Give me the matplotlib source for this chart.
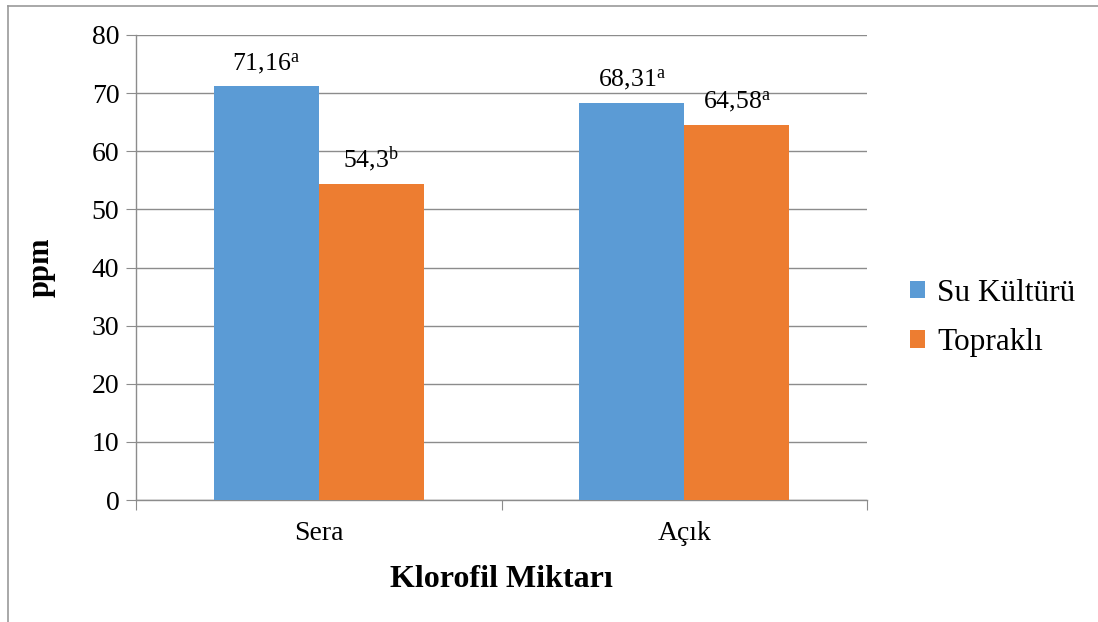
import matplotlib.pyplot as plt
from matplotlib.lines import Line2D
import numpy as np

plt.rcParams['font.family'] = ['Liberation Serif', 'DejaVu Serif']
plt.rcParams['mathtext.fontset'] = 'custom'
plt.rcParams['mathtext.rm'] = 'Liberation Serif'
plt.rcParams['mathtext.it'] = 'Liberation Serif'

categories = ['Sera', 'Açık']
series = ['Su Kültürü', 'Topraklı']
su_kulturu = [71.16, 68.31]
toprakli = [54.3, 64.58]
su_letters = ['a', 'a']
toprak_letters = ['b', 'a']
su_labels = ['71,16', '68,31']
toprak_labels = ['54,3', '64,58']
colors = ['#5B9BD5', '#ED7D31']

fig = plt.figure(figsize=(10.98, 6.22), dpi=100)
ax = fig.add_axes([136 / 1098, 1 - 500 / 622, (867 - 136) / 1098, (500 - 35) / 622])

x = np.arange(len(categories)) + 0.5
w = 105 / 365
b1 = ax.bar(x - w / 2, su_kulturu, w, color=colors[0], label=series[0], zorder=3)
b2 = ax.bar(x + w / 2, toprakli, w, color=colors[1], label=series[1], zorder=3)

# value labels with significance letters
for bars, labels, letters in [(b1, su_labels, su_letters), (b2, toprak_labels, toprak_letters)]:
    for bar, lab, let in zip(bars, labels, letters):
        ax.text(bar.get_x() + bar.get_width() / 2, bar.get_height() + 1.8,
                lab + r'$^{\mathrm{' + let + '}}$', ha='center', va='bottom',
                fontsize=18.5, zorder=4)

ax.set_xlim(0, 2)
ax.set_ylim(0, 80)
ax.set_yticks(range(0, 81, 10))
ax.yaxis.grid(True, color='#8c8c8c', linewidth=1.0, zorder=0)
ax.set_xticks([0, 1, 2])
ax.set_xticklabels([])
ax.set_xticks(x, minor=True)
ax.set_xticklabels(categories, minor=True)
ax.tick_params(axis='x', which='major', length=7, color='#8c8c8c', direction='out')
ax.tick_params(axis='x', which='minor', length=0, labelsize=20, pad=15)
ax.tick_params(axis='y', length=7, color='#8c8c8c', labelsize=20, pad=5)
for s in ['top', 'right']:
    ax.spines[s].set_visible(False)
for s in ['left', 'bottom']:
    ax.spines[s].set_color('#8c8c8c')
    ax.spines[s].set_linewidth(1.0)

ax.set_ylabel('ppm', fontsize=22, fontweight='bold', labelpad=26)
ax.set_xlabel('Klorofil Miktarı', fontsize=23, fontweight='bold', labelpad=14)

fig.legend(handles=[b1, b2], labels=series, loc='center left',
           bbox_to_anchor=(910 / 1098, 1 - 318 / 622), frameon=False,
           borderpad=0, borderaxespad=0,
           fontsize=22.5, handlelength=0.48, handleheight=0.48, handletextpad=0.38,
           labelspacing=0.65)

# outer frame lines
fig.add_artist(Line2D([8 / 1098, 1.0], [1 - 6 / 622] * 2, color='#999999', linewidth=1.2))
fig.add_artist(Line2D([8 / 1098] * 2, [0.0, 1 - 6 / 622], color='#999999', linewidth=1.2))

fig.savefig('out.png', dpi=100)
